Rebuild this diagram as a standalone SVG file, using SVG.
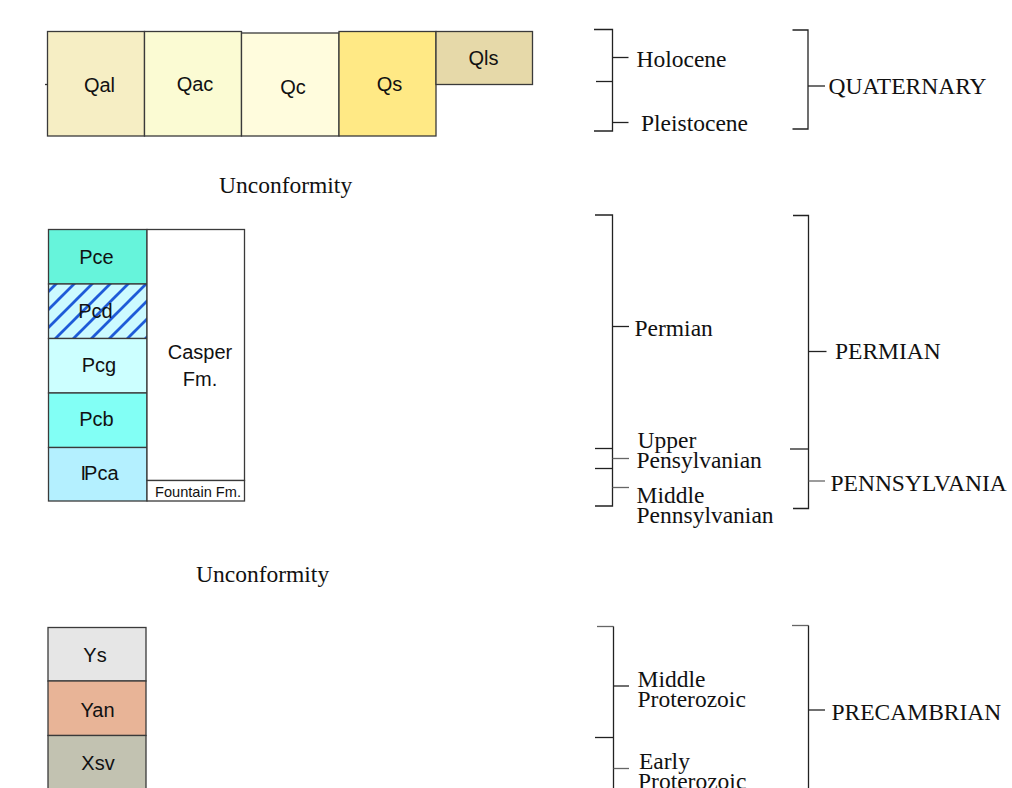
<svg xmlns="http://www.w3.org/2000/svg" width="1012" height="788" viewBox="0 0 1012 788">
<style>
.box{stroke:#3a3a3a;stroke-width:1.3}
.a{font-family:"Liberation Sans",Arial,sans-serif;font-size:20px;fill:#111;text-anchor:middle}
.t{font-family:"Liberation Serif","Times New Roman",serif;font-size:23.5px;fill:#111}
.br{fill:none;stroke:#222;stroke-width:1.3}
.g{stroke:#666;stroke-width:1.3}
</style>
<defs>
<pattern id="hatch" patternUnits="userSpaceOnUse" width="18" height="18" x="2" y="284">
<rect width="18" height="18" fill="#CCFAFF"/>
<path d="M-4.5,4.5 L4.5,-4.5 M0,18 L18,0 M13.5,22.5 L22.5,13.5" stroke="#1E5BD8" stroke-width="2.8"/>
</pattern>
</defs>
<rect width="1012" height="788" fill="#fff"/>

<g id="quaternary-units">
<g id="Qal"><rect class="box" x="47.5" y="31.5" width="97" height="104.5" fill="#F6EEC4"/><text class="a" x="99.5" y="92">Qal</text></g>
<g id="Qac"><rect class="box" x="144.5" y="31.5" width="97" height="104.5" fill="#FBFBD3"/><text class="a" x="195" y="91">Qac</text></g>
<g id="Qc"><rect class="box" x="241.5" y="33" width="97.5" height="103" fill="#FFFCDD"/><text class="a" x="293" y="94">Qc</text></g>
<g id="Qs"><rect class="box" x="339" y="31.5" width="97" height="104.5" fill="#FFE985"/><text class="a" x="389.5" y="91">Qs</text></g>
<g id="Qls"><rect class="box" x="436" y="31.5" width="96.5" height="53" fill="#E6D9A9"/><text class="a" x="483.5" y="65">Qls</text></g>
<line x1="45" y1="84.5" x2="48" y2="84.5" stroke="#333" stroke-width="1.3"/>
</g>

<g id="unconformity-1"><text class="t" x="219" y="193">Unconformity</text></g>

<g id="paleozoic-units">
<g id="Pce"><rect class="box" x="48.5" y="229.5" width="98.5" height="54.5" fill="#66F4DB"/><text class="a" x="96.5" y="264">Pce</text></g>
<g id="Pcd"><rect class="box" x="48.5" y="284" width="98.5" height="54.5" fill="url(#hatch)"/><text class="a" x="95.5" y="318">Pcd</text></g>
<g id="Pcg"><rect class="box" x="48.5" y="338.5" width="98.5" height="54.5" fill="#CCFFFF"/><text class="a" x="99" y="372">Pcg</text></g>
<g id="Pcb"><rect class="box" x="48.5" y="393" width="98.5" height="54.5" fill="#82FFF5"/><text class="a" x="96.5" y="426">Pcb</text></g>
<g id="Pca"><rect class="box" x="48.5" y="447.5" width="98.5" height="53.5" fill="#B4F0FF"/><text class="a" x="99.5" y="479.5">I<tspan dx="-2">Pca</tspan></text></g>
<g id="Casper"><rect class="box" x="147" y="229.5" width="97.5" height="251" fill="#FFFFFF"/><text class="a" x="200" y="359">Casper</text><text class="a" x="200" y="385.5">Fm.</text></g>
<g id="Fountain"><rect class="box" x="147" y="480.5" width="97.5" height="20.5" fill="#FFFFFF"/><text class="a" x="198" y="496.5" style="font-size:14.6px">Fountain Fm.</text></g>
</g>

<g id="unconformity-2"><text class="t" x="196" y="581.5">Unconformity</text></g>

<g id="precambrian-units">
<g id="Ys"><rect class="box" x="48" y="627.5" width="98" height="53.5" fill="#E6E6E6"/><text class="a" x="95" y="661.5">Ys</text></g>
<g id="Yan"><rect class="box" x="48" y="681" width="98" height="54.5" fill="#E8B497"/><text class="a" x="97.5" y="716.5">Yan</text></g>
<g id="Xsv"><rect class="box" x="48" y="735.5" width="98" height="60" fill="#C2C2B1"/><text class="a" x="98" y="770">Xsv</text></g>
</g>

<g id="connectors">
<path class="br" d="M594,29.5 H612.5 V131 H594"/>
<line class="br" x1="596" y1="81.5" x2="612.5" y2="81.5"/>
<line class="br" x1="612.5" y1="57.5" x2="628.5" y2="57.5"/>
<line class="br" x1="612.5" y1="122.5" x2="628.5" y2="122.5"/>
<path class="br" d="M792.5,30 H808 V129 H792.5"/>
<line class="br" x1="808" y1="86" x2="825" y2="86"/>
<path class="br" d="M595,215 H612.5 V506 H595"/>
<line class="br" x1="612.5" y1="326.5" x2="629" y2="326.5"/>
<line class="br" x1="595" y1="448.5" x2="612.5" y2="448.5"/>
<line class="br g" x1="612.5" y1="458.5" x2="629" y2="458.5"/>
<line class="br" x1="595" y1="468.5" x2="612.5" y2="468.5"/>
<line class="br g" x1="612.5" y1="487.5" x2="629" y2="487.5"/>
<path class="br" d="M793,215.5 H808.5 V508.5 H793"/>
<line class="br" x1="808.5" y1="351.5" x2="826.5" y2="351.5"/>
<line class="br" x1="790" y1="449" x2="808.5" y2="449"/>
<line class="br g" x1="808.5" y1="481" x2="825" y2="481"/>
<path class="br g" d="M597,626.5 H613.5"/>
<line class="br" x1="613.5" y1="626.5" x2="613.5" y2="790"/>
<line class="br" x1="613.5" y1="686" x2="629" y2="686"/>
<line class="br" x1="595" y1="737.5" x2="613.5" y2="737.5"/>
<line class="br g" x1="613.5" y1="768.5" x2="629" y2="768.5"/>
<path class="br g" d="M792,625.5 H808.5"/>
<line class="br" x1="808.5" y1="625.5" x2="808.5" y2="790"/>
<line class="br" x1="808.5" y1="710" x2="825" y2="710"/>
</g>

<g id="labels">
<text class="t" x="636.5" y="66.5">Holocene</text>
<text class="t" x="641" y="130.5">Pleistocene</text>
<text class="t" x="828.5" y="94">QUATERNARY</text>
<text class="t" x="634.5" y="335.5">Permian</text>
<text class="t" x="637.5" y="448">Upper</text>
<text class="t" x="636.5" y="468">Pensylvanian</text>
<text class="t" x="636.5" y="503">Middle</text>
<text class="t" x="636.5" y="523">Pennsylvanian</text>
<text class="t" x="835" y="359">PERMIAN</text>
<text class="t" x="830.5" y="491">PENNSYLVANIA</text>
<text class="t" x="637.5" y="686.5">Middle</text>
<text class="t" x="637.5" y="706.5">Proterozoic</text>
<text class="t" x="639" y="769">Early</text>
<text class="t" x="638" y="789">Proterozoic</text>
<text class="t" x="831.5" y="720">PRECAMBRIAN</text>
</g>
</svg>
